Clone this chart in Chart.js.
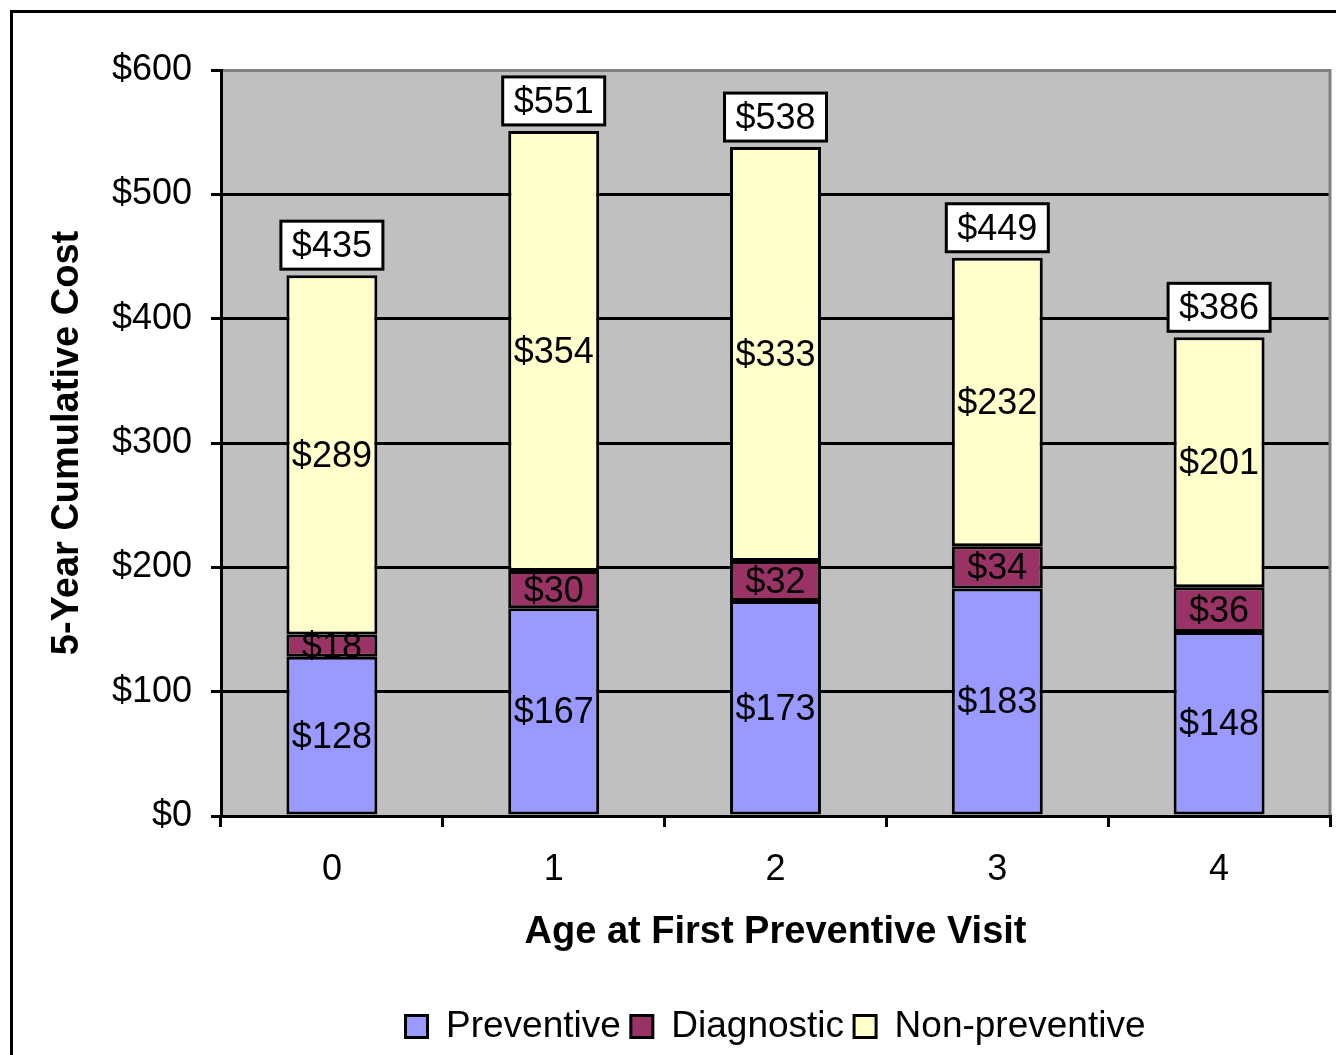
<!DOCTYPE html>
<html><head><meta charset="utf-8">
<script src="https://cdn.jsdelivr.net/npm/chart.js@4/dist/chart.umd.min.js"></script>
<style>html,body{margin:0;padding:0;background:#fff;} canvas{display:block;}</style>
</head><body>
<canvas id="c" width="1336" height="1055"></canvas>
<script>
const categories = ['0', '1', '2', '3', '4'];
const preventive = [128, 167, 173, 183, 148];
const diagnostic = [18, 30, 32, 34, 36];
const nonPreventive = [289, 354, 333, 232, 201];
const totals = [435, 551, 538, 449, 386];
const seriesNames = ['Preventive', 'Diagnostic', 'Non-preventive'];
const seriesColors = ['#9999ff', '#993366', '#ffffcc'];
const yMin = 0, yMax = 600, yStep = 100;

const FONT = "'Liberation Sans', Arial, sans-serif";

const frame = {
  id: 'frame',
  afterLayout(chart) {
    // center legend under the plot area rather than the canvas
    const a = chart.chartArea;
    const lg = chart.legend;
    if (lg) {
      const center = (a.left + a.right) / 2;
      lg.left = 2 * center - lg.right;
    }
  },
  beforeDraw(chart) {
    const {ctx, chartArea: a} = chart;
    ctx.save();
    ctx.fillStyle = '#fff';
    ctx.fillRect(0, 0, chart.width, chart.height);
    ctx.fillStyle = '#c0c0c0';
    ctx.fillRect(a.left, a.top, a.right - a.left, a.bottom - a.top);
    ctx.strokeStyle = '#000';
    ctx.lineWidth = 3;
    ctx.beginPath();
    ctx.moveTo(11.5, chart.height + 5);
    ctx.lineTo(11.5, 11.5);
    ctx.lineTo(chart.width + 5, 11.5);
    ctx.stroke();
    ctx.restore();
  },
  beforeDatasetsDraw(chart) {
    const {ctx, chartArea: a} = chart;
    ctx.save();
    ctx.strokeStyle = '#808080';
    ctx.lineWidth = 3;
    ctx.beginPath();
    ctx.moveTo(a.left + 2, a.top + 0.5);
    ctx.lineTo(a.right, a.top + 0.5);
    ctx.lineTo(a.right, a.bottom - 1);
    ctx.stroke();
    ctx.restore();
  }
};

const labels = {
  id: 'labels',
  afterDatasetsDraw(chart) {
    const ctx = chart.ctx;
    ctx.save();
    ctx.font = '36px ' + FONT;
    ctx.fillStyle = '#000';
    ctx.textAlign = 'center';
    ctx.textBaseline = 'middle';
    chart.data.datasets.forEach((ds, i) => {
      const meta = chart.getDatasetMeta(i);
      meta.data.forEach((el, j) => {
        const p = el.getProps(['x', 'y', 'base'], true);
        ctx.fillText('$' + ds.data[j], p.x, (p.y + p.base) / 2 + 2);
      });
    });
    const last = chart.getDatasetMeta(chart.data.datasets.length - 1);
    last.data.forEach((el, j) => {
      const p = el.getProps(['x', 'y'], true);
      const w = 102, h = 48;
      const bottom = p.y - 6;
      ctx.fillStyle = '#fff';
      ctx.fillRect(p.x - w / 2, bottom - h, w, h);
      ctx.strokeStyle = '#000';
      ctx.lineWidth = 3;
      ctx.strokeRect(p.x - w / 2, bottom - h, w, h);
      ctx.fillStyle = '#000';
      ctx.fillText('$' + totals[j], p.x, bottom - h / 2 + 2);
    });
    ctx.restore();
  }
};

const datasets = [preventive, diagnostic, nonPreventive].map((d, i) => ({
  label: seriesNames[i],
  data: d,
  backgroundColor: seriesColors[i],
  borderColor: '#000',
  borderWidth: 3,
  borderSkipped: false,
  categoryPercentage: 1,
  barPercentage: 0.41
}));

new Chart(document.getElementById('c'), {
  type: 'bar',
  data: {labels: categories, datasets},
  plugins: [frame, labels],
  options: {
    responsive: false,
    animation: false,
    devicePixelRatio: 1,
    layout: {padding: {top: 70, right: 6, left: 0, bottom: 0}},
    plugins: {
      tooltip: {enabled: false},
      legend: {
        position: 'bottom',
        labels: {
          font: {size: 37, family: FONT},
          color: '#000',
          boxWidth: 22,
          boxHeight: 22,
          padding: 10
        }
      }
    },
    scales: {
      x: {
        stacked: true,
        grid: {offset: true, drawOnChartArea: false, color: '#000', lineWidth: 3, tickLength: 11},
        border: {color: '#000', width: 3},
        ticks: {font: {size: 36, family: FONT}, color: '#000', padding: 21},
        title: {display: true, text: 'Age at First Preventive Visit', color: '#000',
          font: {size: 38, weight: 'bold', family: FONT}, padding: {top: 0, bottom: 43}},
        afterFit(s) { s.height = 182; }
      },
      y: {
        stacked: true,
        min: yMin, max: yMax,
        grid: {color: '#000', lineWidth: 3, tickLength: 10},
        border: {color: '#000', width: 3},
        ticks: {stepSize: yStep, font: {size: 36, family: FONT}, color: '#000', padding: 19,
          callback: v => '$' + v},
        title: {display: true, text: '5-Year Cumulative Cost', color: '#000',
          font: {size: 38, weight: 'bold', family: FONT}, padding: {top: 45, bottom: 0}},
        afterFit(s) { s.width = 221; }
      }
    }
  }
});
</script>
</body></html>
